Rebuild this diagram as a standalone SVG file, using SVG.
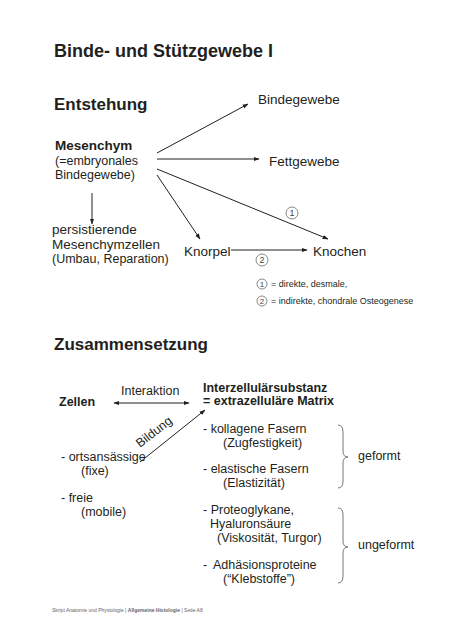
<svg xmlns="http://www.w3.org/2000/svg" width="453" height="640" viewBox="0 0 453 640">
<defs>
<style>
text{font-family:"Liberation Sans",Arial,sans-serif;fill:#231f20}
.h1{font-size:18px;font-weight:bold}
.h2{font-size:17px;font-weight:bold}
.t{font-size:13.5px}
.s{font-size:12.5px}
.b{font-size:13.5px;font-weight:bold}
.bs{font-size:12.5px;font-weight:bold}
.leg{font-size:9px}
.num{font-size:9px;text-anchor:middle;fill:#444}
.foot{font-size:5px;fill:#666}
.ln{stroke:#231f20;stroke-width:1;fill:none}
.circ{stroke:#555;stroke-width:0.7;fill:none}
.brace{stroke:#777;stroke-width:1;fill:none}
</style>
<marker id="ah" viewBox="0 0 10 10" refX="9" refY="5" markerWidth="6" markerHeight="6" orient="auto-start-reverse" markerUnits="userSpaceOnUse">
<path d="M0,1.5 L10,5 L0,8.5 Z" fill="#231f20"/>
</marker>
</defs>
<rect width="453" height="640" fill="#ffffff"/>

<text class="h1" x="54" y="57">Binde- und Stützgewebe I</text>
<text class="h2" x="54" y="110">Entstehung</text>

<g id="mesenchym">
<text class="b" x="55" y="150">Mesenchym</text>
<text class="s" x="55" y="165">(=embryonales</text>
<text class="s" x="55" y="179">Bindegewebe)</text>
</g>
<g id="bindegewebe"><text class="t" x="258" y="104">Bindegewebe</text></g>
<g id="fettgewebe"><text class="t" x="269" y="166">Fettgewebe</text></g>
<g id="persistierende">
<text class="t" x="52" y="234">persistierende</text>
<text class="t" x="52" y="249">Mesenchymzellen</text>
<text class="s" x="52" y="263">(Umbau, Reparation)</text>
</g>
<g id="knorpel"><text class="t" x="184" y="256">Knorpel</text></g>
<g id="knochen"><text class="t" x="313" y="256">Knochen</text></g>

<g id="connectors-entstehung">
<line class="ln" x1="157" y1="153" x2="248" y2="104" marker-end="url(#ah)"/>
<line class="ln" x1="157" y1="159" x2="259" y2="159" marker-end="url(#ah)"/>
<line class="ln" x1="157" y1="169" x2="328" y2="239" marker-end="url(#ah)"/>
<line class="ln" x1="157" y1="175" x2="200" y2="239" marker-end="url(#ah)"/>
<line class="ln" x1="92" y1="193" x2="92" y2="224" marker-end="url(#ah)"/>
<line class="ln" x1="231" y1="250" x2="307" y2="250" marker-end="url(#ah)"/>
<circle class="circ" cx="292" cy="213" r="6"/><text class="num" x="292" y="216.2">1</text>
<circle class="circ" cx="262" cy="260" r="6"/><text class="num" x="262" y="263.2">2</text>
</g>

<g id="legende">
<circle class="circ" cx="262" cy="284" r="5"/><text class="num" x="262" y="287" style="font-size:8px">1</text>
<text class="leg" x="271" y="287">= direkte, desmale,</text>
<circle class="circ" cx="262" cy="301" r="5"/><text class="num" x="262" y="304" style="font-size:8px">2</text>
<text class="leg" x="271" y="304">= indirekte, chondrale Osteogenese</text>
</g>

<text class="h2" x="54" y="350">Zusammensetzung</text>

<g id="zellen">
<text class="bs" x="59" y="406">Zellen</text>
<text class="s" x="61" y="461">- ortsansässige</text>
<text class="s" x="81" y="475">(fixe)</text>
<text class="s" x="61" y="502">- freie</text>
<text class="s" x="81" y="516">(mobile)</text>
</g>

<g id="matrix">
<text class="bs" x="203" y="392">Interzellulärsubstanz</text>
<text class="bs" x="203" y="405">= extrazelluläre Matrix</text>
<text class="s" x="203" y="433">- kollagene Fasern</text>
<text class="s" x="223" y="447">(Zugfestigkeit)</text>
<text class="s" x="203" y="473">- elastische Fasern</text>
<text class="s" x="223" y="487">(Elastizität)</text>
<text class="s" x="203" y="514">- Proteoglykane,</text>
<text class="s" x="210" y="528">Hyaluronsäure</text>
<text class="s" x="217" y="542">(Viskosität, Turgor)</text>
<text class="s" x="203" y="569">- <tspan x="213">Adhäsionsproteine</tspan></text>
<text class="s" x="223" y="583">(“Klebstoffe”)</text>
</g>

<g id="geformt">
<path class="brace" d="M338,425 Q343,425 343,432 L343,451 Q343,457 348,457 Q343,457 343,463 L343,481 Q343,488 338,488"/>
<text class="s" x="358" y="460">geformt</text>
</g>
<g id="ungeformt">
<path class="brace" d="M338,508 Q343,508 343,515 L343,541 Q343,547 348,547 Q343,547 343,553 L343,576 Q343,583 338,583"/>
<text class="s" x="358" y="549">ungeformt</text>
</g>

<g id="connectors-zusammensetzung">
<line class="ln" x1="114" y1="403" x2="189" y2="403" marker-start="url(#ah)" marker-end="url(#ah)"/>
<text class="s" x="121" y="395">Interaktion</text>
<line class="ln" x1="140" y1="462" x2="205" y2="410" marker-end="url(#ah)"/>
<text class="s" x="0" y="0" transform="translate(140,448) rotate(-38)">Bildung</text>
</g>

<text class="foot" x="52" y="612">Skript Anatomie und Physiologie | <tspan font-weight="bold">Allgemeine Histologie</tspan> | Seite A8</text>
</svg>
